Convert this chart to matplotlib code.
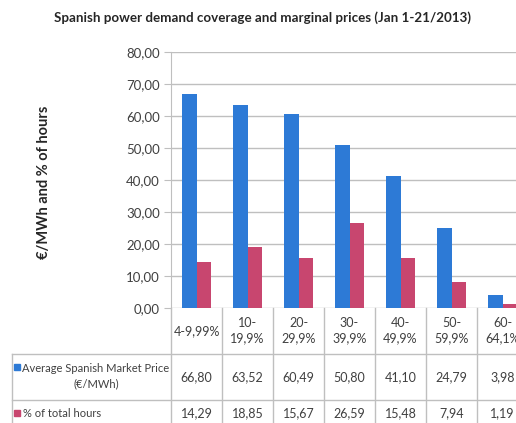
import matplotlib
matplotlib.use("Agg")
import matplotlib.pyplot as plt
from matplotlib.transforms import blended_transform_factory
from matplotlib.patches import Rectangle

categories = ["4-9,99%", "10-\n19,9%", "20-\n29,9%", "30-\n39,9%", "40-\n49,9%", "50-\n59,9%", "60-\n64,1%"]
price = [66.80, 63.52, 60.49, 50.80, 41.10, 24.79, 3.98]
hours = [14.29, 18.85, 15.67, 26.59, 15.48, 7.94, 1.19]
series_names = ["Average Spanish Market Price\n(€/MWh)", "% of total hours"]
yticks = [0, 10, 20, 30, 40, 50, 60, 70, 80]

BLUE = "#2D7AD6"
PINK = "#C8466F"
GRID = "#BFBFBF"
TXT = "#404040"

plt.rcParams['font.family'] = ['Lato', 'DejaVu Sans']

W, H = 516, 423
fig = plt.figure(figsize=(W / 100, H / 100), dpi=100)

def fx(px):
    return px / W

def fy(py):
    return 1 - py / H

left, right, top, bottom = 171, 528, 52, 307.7
ax = fig.add_axes([fx(left), fy(bottom), fx(right - left), (bottom - top) / H])

n = len(categories)
xs = list(range(n))
bw = 0.285
ax.bar([x - bw / 2 for x in xs], price, width=bw, color=BLUE, zorder=3)
ax.bar([x + bw / 2 for x in xs], hours, width=bw, color=PINK, zorder=3)

ax.set_xlim(-0.5, n - 0.5)
ax.set_ylim(0, 80)
ax.set_yticks(yticks)
ax.set_yticklabels([f"{v:.2f}".replace(".", ",") for v in yticks], fontsize=9.5, color=TXT)
ax.yaxis.grid(True, color=GRID, linewidth=1, zorder=0)
ax.set_xticks([])
ax.tick_params(axis='y', length=5, color=GRID, pad=3)
for s in ["top", "right", "bottom"]:
    ax.spines[s].set_visible(False)
ax.spines["left"].set_color(GRID)

# title and y label
fig.text(fx(262), fy(18), "Spanish power demand coverage and marginal prices (Jan 1-21/2013)",
         ha="center", va="center", fontsize=9.6, fontweight="bold", color="#262626")
fig.text(fx(44), fy(182), "€/MWh and % of hours", rotation=90, ha="center", va="center",
         fontsize=10.5, fontweight="bold", color="#262626")

# data table
tr = blended_transform_factory(ax.transData, fig.transFigure)
row_cat = (307.7, 354)
row_price = (354, 400)
row_hours = (400, 446)

def vline(x, y0, y1, transform):
    fig.add_artist(plt.Line2D([x, x], [fy(y0), fy(y1)], transform=transform, color=GRID, lw=1, clip_on=False))

for y in [row_price[0], row_hours[0]]:
    fig.add_artist(plt.Line2D([fx(12), fx(right)], [fy(y), fy(y)], transform=fig.transFigure,
                              color=GRID, lw=1, clip_on=False))
for i in range(n + 1):
    vline(i - 0.5, row_cat[0], row_hours[1], tr)
vline(fx(12), row_price[0], row_hours[1], fig.transFigure)

for i in range(n):
    fig.text(i, fy(sum(row_cat) / 2), categories[i], transform=tr, ha="center", va="center",
             fontsize=9, color=TXT, linespacing=1.3)
    fig.text(i, fy(377), f"{price[i]:.2f}".replace(".", ","), transform=tr, ha="center", va="center",
             fontsize=9, color=TXT)
    fig.text(i, fy(413), f"{hours[i]:.2f}".replace(".", ","), transform=tr, ha="center", va="center",
             fontsize=9, color=TXT)

fig.add_artist(Rectangle((fx(14), fy(370)), fx(6), 6 / H, transform=fig.transFigure, color=BLUE))
fig.text(fx(96), fy(376), series_names[0], ha="center", va="center", fontsize=8, color=TXT,
         linespacing=1.5)
fig.add_artist(Rectangle((fx(14), fy(416)), fx(6), 6 / H, transform=fig.transFigure, color=PINK))
fig.text(fx(23), fy(413), series_names[1], ha="left", va="center", fontsize=8, color=TXT)

fig.savefig("out.png", dpi=100)
